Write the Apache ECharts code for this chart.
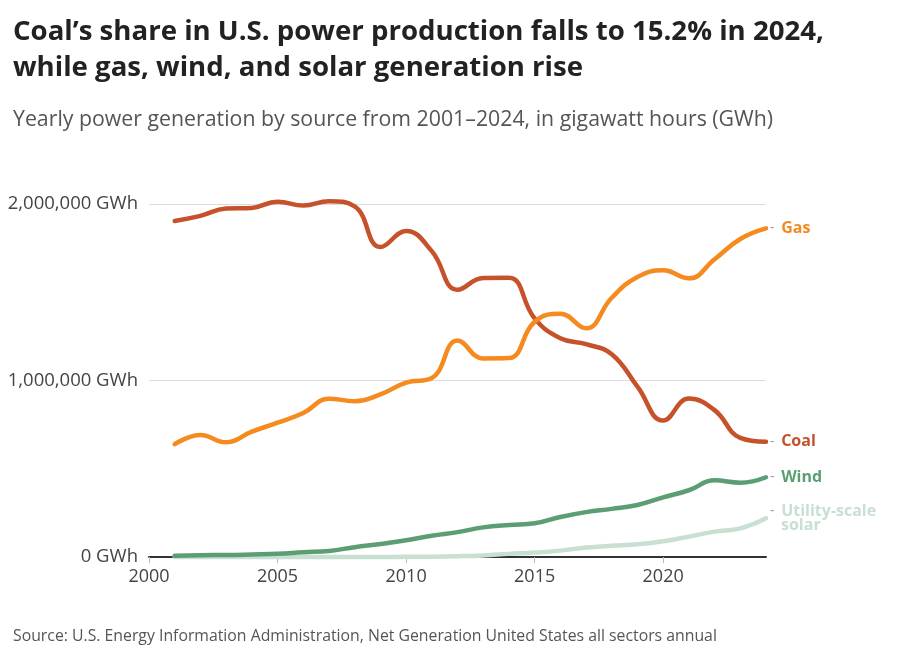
<!DOCTYPE html>
<html>
<head>
<meta charset="utf-8">
<script src="https://cdn.jsdelivr.net/npm/echarts@6/dist/echarts.min.js"></script>
<style>
	html, body { margin: 0; padding: 0; background: #fff; }
	#chart { width: 900px; height: 652px; }
</style>
</head>
<body>
<div id="chart"></div>
<script>
// years 2001-2024
var years = [2001, 2002, 2003, 2004, 2005, 2006, 2007, 2008, 2009, 2010, 2011, 2012,
	2013, 2014, 2015, 2016, 2017, 2018, 2019, 2020, 2021, 2022, 2023, 2024];

// GWh per year
var coal = [1904000, 1933000, 1974000, 1978000, 2013000, 1991000, 2016000, 1986000,
	1756000, 1847000, 1733000, 1514000, 1581000, 1582000, 1352000, 1239000,
	1206000, 1149000, 965000, 773000, 898000, 832000, 675000, 653000];
var gas = [639000, 691000, 650000, 710000, 761000, 816000, 897000, 883000,
	921000, 988000, 1014000, 1226000, 1125000, 1127000, 1333000, 1378000,
	1296000, 1469000, 1586000, 1624000, 1579000, 1687000, 1802000, 1862000];
var wind = [6700, 10400, 11200, 14100, 17800, 26600, 34500, 55400,
	73900, 94700, 120200, 140800, 167800, 181700, 190700, 227000,
	254300, 272700, 294900, 337900, 378200, 434300, 421000, 452000];
var solar = [10, 2, 5, 6, 16, 15, 16, 76,
	157, 1200, 1800, 4300, 9000, 17700, 24900, 36100,
	53300, 63800, 71900, 89000, 115300, 143800, 162000, 219000];

var y_ticks = [0, 1000000, 2000000];
var font = "'Open Sans', 'Noto Sans', sans-serif";

var chart_obj = {
	init : function(){
		var myChart = echarts.init(document.getElementById("chart"));
		myChart.setOption(chart_obj.get_options());
		window.addEventListener("resize", function(){ myChart.resize(); });
	},

	pairs : function(values){
		var out = [];
		for (var i = 0; i < years.length; i++) {
			out.push([years[i], values[i]]);
		}
		return out;
	},

	make_series : function(name, values, color, label_text, z){
		return {
			name: name,
			type: 'line',
			smooth: 0.45,
			symbol: 'none',
			clip: false,
			z: z,
			lineStyle: { color: color, width: 4.5, cap: 'round' },
			emphasis: { disabled: true },
			endLabel: {
				show: true,
				distance: 4,
				formatter: label_text,
				rich: {
					d: { color: '#999', fontFamily: font, fontSize: 14, padding: [0, 3, 0, 0] },
					n: { color: color, fontFamily: font, fontSize: 16, fontWeight: 'bold', lineHeight: 14 },
					s: { color: color, fontFamily: font, fontSize: 16, fontWeight: 'bold', lineHeight: 14, padding: [0, 0, 0, 11] }
				}
			},
			data: chart_obj.pairs(values)
		};
	},

	get_options : function(){
		var option = {
			animation: false,
			backgroundColor: '#fff',
			title: [
				{
					text: "Coal\u2019s share in U.S. power production falls to 15.2% in 2024,\nwhile gas, wind, and solar generation rise",
					left: 8,
					top: 9,
					textStyle: {
						fontFamily: font,
						fontSize: 27.6,
						fontWeight: 'bold',
						color: '#222',
						lineHeight: 36
					}
				},
				{
					text: "Yearly power generation by source from 2001\u20132024, in gigawatt hours (GWh)",
					left: 8,
					top: 104,
					textStyle: {
						fontFamily: font,
						fontSize: 21.3,
						fontWeight: 'normal',
						color: '#555'
					}
				},
				{
					text: "Source: U.S. Energy Information Administration, Net Generation United States all sectors annual",
					left: 8,
					top: 623,
					textStyle: {
						fontFamily: font,
						fontSize: 15.8,
						fontWeight: 'normal',
						color: '#555'
					}
				}
			],
			grid: {
				left: 149,
				right: 134,
				top: 204,
				bottom: 95,
				containLabel: false
			},
			xAxis: {
				type: 'value',
				min: 2000,
				max: 2024,
				interval: 5,
				axisLine: { show: true, lineStyle: { color: '#333', width: 2 } },
				axisTick: { show: true, length: 6, lineStyle: { color: '#bbb' } },
				splitLine: { show: false },
				axisLabel: {
					margin: 11,
					color: '#444',
					fontFamily: font,
					fontSize: 18,
					showMaxLabel: false,
					formatter: function(v){ return v; }
				}
			},
			yAxis: {
				type: 'value',
				min: 0,
				max: 2000000,
				interval: 1000000,
				axisLine: { show: false },
				axisTick: { show: false },
				splitLine: { show: true, lineStyle: { color: '#ddd', width: 1 } },
				axisLabel: {
					margin: 11,
					color: '#444',
					fontFamily: font,
					fontSize: 18.5,
					customValues: y_ticks,
					formatter: function(v){
						return v.toLocaleString('en-US') + ' GWh';
					}
				}
			},
			series: [
				chart_obj.make_series('Solar', solar, '#c7e0d1', '{d|- }{n|Utility-scale}\n{s|solar}', 2),
				chart_obj.make_series('Wind', wind, '#5b9e73', '{d|- }{n|Wind}', 3),
				chart_obj.make_series('Coal', coal, '#c5522b', '{d|- }{n|Coal}', 4),
				chart_obj.make_series('Gas', gas, '#f58a1f', '{d|- }{n|Gas}', 5)
			]
		};
		return option;
	}
};

chart_obj.init();
</script>
</body>
</html>
